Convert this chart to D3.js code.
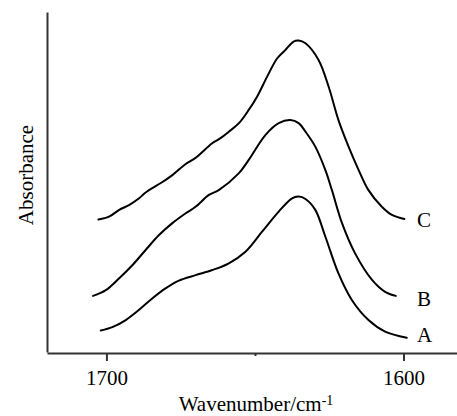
<!DOCTYPE html>
<html>
<head>
<meta charset="utf-8">
<script src="https://cdn.jsdelivr.net/npm/d3@7"></script>
<style>
  body { margin: 0; background: #fff; }
  svg { display: block; font-family: "Liberation Serif", "Times New Roman", serif; }
</style>
</head>
<body>
<script>
// wavenumber (cm-1) and absorbance (a.u.)
const waveA = [1701.9, 1698.0, 1693.5, 1689.0, 1684.5, 1680.1, 1675.6, 1670.0, 1664.4, 1658.8, 1653.2, 1647.6,
  1642.0, 1637.5, 1635.3, 1633.0, 1629.7, 1626.3, 1621.9, 1617.4, 1611.8, 1606.2, 1598.9];
const absA = [0.063, 0.073, 0.094, 0.124, 0.158, 0.187, 0.210, 0.226, 0.241, 0.261, 0.295, 0.354,
  0.413, 0.452, 0.457, 0.450, 0.418, 0.339, 0.231, 0.153, 0.094, 0.060, 0.042];

const waveB = [1704.5, 1700.2, 1695.7, 1691.2, 1686.8, 1682.3, 1677.8, 1673.3, 1670.0, 1665.5, 1662.2, 1655.4, 1652.1,
  1646.5, 1642.0, 1638.1, 1635.3, 1633.0, 1629.7, 1626.3, 1624.1, 1620.7, 1616.3, 1610.6, 1606.2, 1602.6];
const absB = [0.165, 0.182, 0.217, 0.256, 0.300, 0.344, 0.379, 0.408, 0.427, 0.462, 0.476, 0.526, 0.565,
  0.638, 0.673, 0.682, 0.673, 0.648, 0.604, 0.535, 0.476, 0.379, 0.290, 0.212, 0.177, 0.165];

const waveC = [1702.7, 1699.1, 1695.7, 1692.4, 1689.0, 1686.8, 1681.7, 1677.7, 1673.3, 1670.0, 1664.4, 1661.6, 1658.8,
  1655.4, 1652.1, 1649.3, 1645.9, 1642.5, 1639.8, 1637.0, 1635.3, 1633.0, 1628.6, 1625.2, 1621.9, 1618.5,
  1615.1, 1611.8, 1607.3, 1603.9, 1599.7];
const absC = [0.390, 0.398, 0.418, 0.432, 0.452, 0.469, 0.497, 0.521, 0.553, 0.571, 0.614, 0.629, 0.648,
  0.673, 0.712, 0.751, 0.810, 0.864, 0.888, 0.913, 0.916, 0.908, 0.859, 0.780, 0.682, 0.604,
  0.535, 0.476, 0.427, 0.403, 0.391];

const seriesNames = ["A", "B", "C"];
const labelWave = 1595.5;
const labelAbs = [0.030, 0.135, 0.369];

const majorTicks = [1700, 1600];
const minorTicks = [1650];

const width = 457, height = 416;

const series = [
  {name: seriesNames[0], wave: waveA, abs: absA},
  {name: seriesNames[1], wave: waveB, abs: absB},
  {name: seriesNames[2], wave: waveC, abs: absC}
];

const xScale = d3.scaleLinear()
  .domain([1720, 1582])
  .range([47, 457]);
const yScale = d3.scaleLinear()
  .domain([0, 1])
  .range([352, 12]);

const svg = d3.select('body')
  .append('svg')
  .attr('width', width)
  .attr('height', height);

// x axis: labelled major ticks plus one short unlabelled tick
const xAxis = svg.append('g')
  .attr('transform', `translate(0, ${yScale(0) + 1})`)
  .call(d3.axisBottom(xScale)
    .tickValues(majorTicks)
    .tickSize(8)
    .tickSizeOuter(0)
    .tickPadding(9)
    .tickFormat(d3.format('d')));

svg.append('g')
  .attr('transform', `translate(0, ${yScale(0) + 1})`)
  .call(d3.axisBottom(xScale)
    .tickValues(minorTicks)
    .tickSize(3)
    .tickSizeOuter(0)
    .tickFormat(''))
  .select('.domain').remove();

const yAxis = svg.append('g')
  .attr('transform', `translate(${xScale.range()[0]}, 0)`)
  .call(d3.axisLeft(yScale).tickValues([]).tickSizeOuter(0));

svg.selectAll('.domain, .tick line')
  .attr('stroke', '#333')
  .attr('stroke-width', 2);

xAxis.selectAll('.tick text')
  .attr('font-family', '"Liberation Serif", serif')
  .attr('font-size', 21)
  .attr('fill', '#000');

const line = d3.line()
  .x(d => xScale(d[0]))
  .y(d => yScale(d[1]))
  .curve(d3.curveCatmullRom.alpha(0.5));

svg.append('g')
  .selectAll('path')
  .data(series)
  .enter()
  .append('path')
  .attr('d', s => line(s.wave.map((w, i) => [w, s.abs[i]])))
  .attr('fill', 'none')
  .attr('stroke', '#000')
  .attr('stroke-width', 2)
  .attr('stroke-linejoin', 'round')
  .attr('stroke-linecap', 'round');

svg.append('g')
  .selectAll('text')
  .data(series)
  .enter()
  .append('text')
  .attr('x', xScale(labelWave))
  .attr('y', (d, i) => yScale(labelAbs[i]))
  .attr('font-size', 21)
  .attr('fill', '#000')
  .text(d => d.name);

// axis titles
const xTitle = svg.append('text')
  .attr('x', 256)
  .attr('y', 411)
  .attr('text-anchor', 'middle')
  .attr('font-size', 21)
  .attr('fill', '#000');
xTitle.append('tspan').text('Wavenumber/cm');
xTitle.append('tspan')
  .attr('dy', -6)
  .attr('font-size', 14)
  .text('-1');

svg.append('text')
  .attr('transform', 'translate(33, 175) rotate(-90)')
  .attr('text-anchor', 'middle')
  .attr('font-size', 21)
  .attr('fill', '#000')
  .text('Absorbance');
</script>
</body>
</html>
